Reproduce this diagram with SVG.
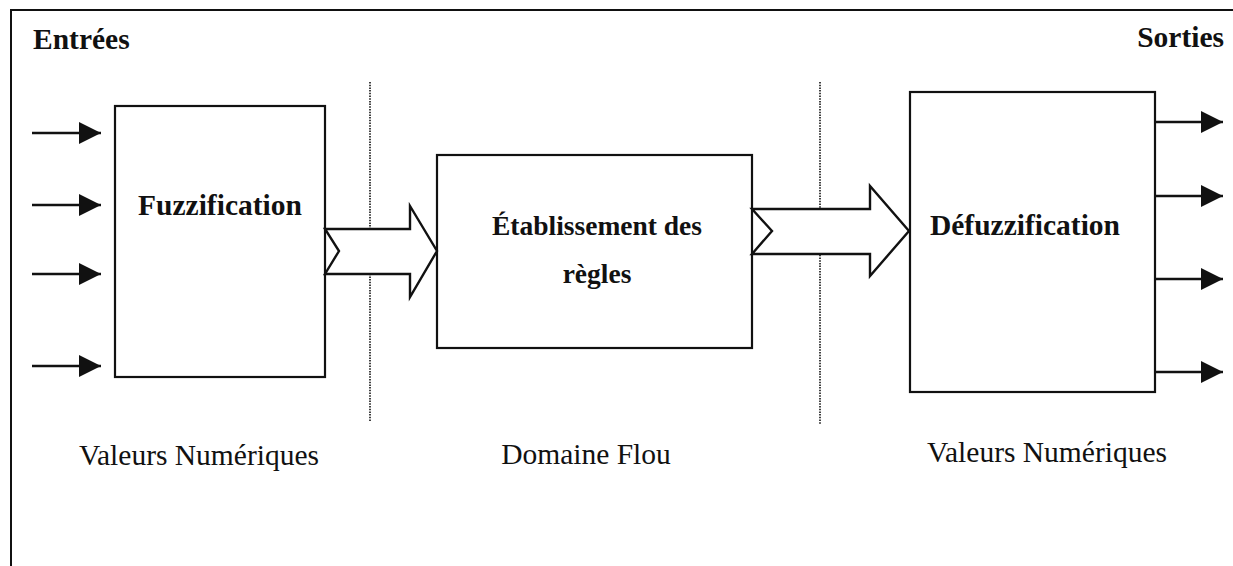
<svg xmlns="http://www.w3.org/2000/svg" width="1233" height="566" viewBox="0 0 1233 566">
  <style>
    .frame { fill: none; stroke: #111; stroke-width: 2; }
    .box { fill: #fff; stroke: #111; stroke-width: 2.2; }
    .sep { stroke: #111; stroke-width: 1.6; stroke-dasharray: 1.5 1.2; }
    .wire { stroke: #111; stroke-width: 2.4; fill: none; }
    .big { fill: #fff; stroke: #111; stroke-width: 2.4; stroke-linejoin: miter; }
    .title { font-family: "Liberation Serif", "Times New Roman", serif; font-weight: bold; font-size: 29.5px; fill: #111; }
    .rules { font-size: 27.5px; }
    .label { font-family: "Liberation Serif", "Times New Roman", serif; font-size: 29.5px; fill: #111; }
  </style>
  <defs>
    <marker id="head" markerWidth="22" markerHeight="22" viewBox="0 0 22 22" refX="22" refY="11" orient="auto" markerUnits="userSpaceOnUse">
      <path d="M0,0 L22,11 L0,22 Z" fill="#111"/>
    </marker>
  </defs>

  <rect width="1233" height="566" fill="#fff"/>

  <!-- outer frame, running past the right and bottom edges -->
  <path class="frame" d="M11,600 L11,10 L1260,10"/>

  <text class="title" x="33" y="49">Entrées</text>
  <text class="title" x="1224" y="47" text-anchor="end">Sorties</text>

  <!-- domain separators -->
  <line class="sep" x1="370" y1="82" x2="370" y2="422"/>
  <line class="sep" x1="820" y1="82" x2="820" y2="425"/>

  <g id="fuzzification">
    <rect class="box" x="115" y="106" width="210" height="271"/>
    <text class="title" x="220" y="215" text-anchor="middle">Fuzzification</text>
  </g>

  <g id="regles">
    <rect class="box" x="437" y="155" width="315" height="193"/>
    <text class="title rules" x="597" y="235" text-anchor="middle">Établissement des</text>
    <text class="title rules" x="597" y="283" text-anchor="middle">règles</text>
  </g>

  <g id="defuzzification">
    <rect class="box" x="910" y="92" width="245" height="300"/>
    <text class="title" x="1025" y="235" text-anchor="middle">Défuzzification</text>
  </g>

  <g id="connectors">
    <!-- numeric inputs -->
    <line class="wire" x1="32" y1="133" x2="101" y2="133" marker-end="url(#head)"/>
    <line class="wire" x1="32" y1="205" x2="101" y2="205" marker-end="url(#head)"/>
    <line class="wire" x1="32" y1="274" x2="101" y2="274" marker-end="url(#head)"/>
    <line class="wire" x1="32" y1="366" x2="101" y2="366" marker-end="url(#head)"/>

    <!-- block arrows between stages -->
    <path class="big" d="M325,229 L410,229 L410,206 L437,251 L410,297 L410,274 L325,274 L339,251 Z"/>
    <path class="big" d="M752,209 L870,209 L870,186 L909,231 L870,276 L870,254 L752,254 L772,231 Z"/>

    <!-- numeric outputs -->
    <line class="wire" x1="1155" y1="122" x2="1223" y2="122" marker-end="url(#head)"/>
    <line class="wire" x1="1155" y1="196" x2="1223" y2="196" marker-end="url(#head)"/>
    <line class="wire" x1="1155" y1="279" x2="1223" y2="279" marker-end="url(#head)"/>
    <line class="wire" x1="1155" y1="372" x2="1223" y2="372" marker-end="url(#head)"/>
  </g>

  <text class="label" x="199" y="465" text-anchor="middle">Valeurs Numériques</text>
  <text class="label" x="586" y="464" text-anchor="middle">Domaine Flou</text>
  <text class="label" x="1047" y="462" text-anchor="middle">Valeurs Numériques</text>
</svg>
